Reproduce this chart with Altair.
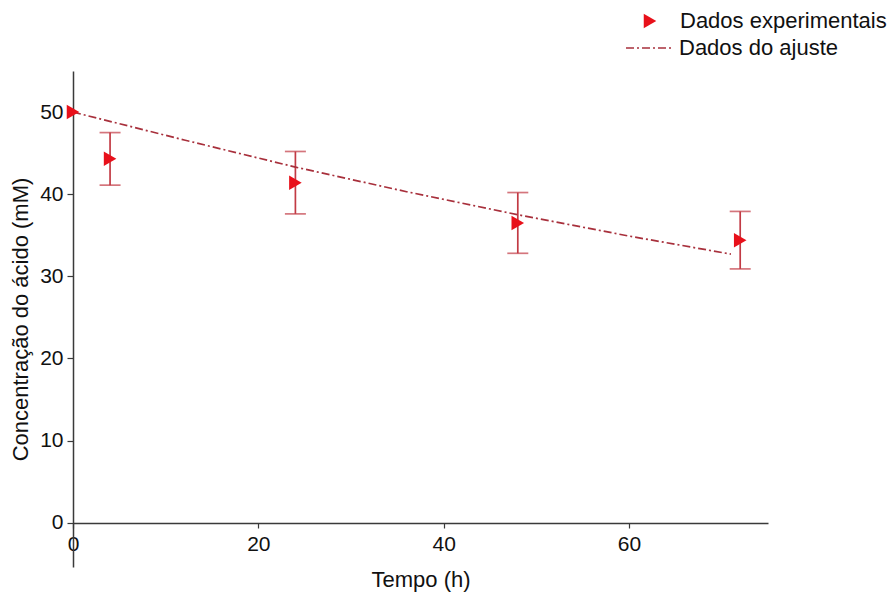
import altair as alt
import pandas as pd

# Experimental data
t_exp = [0, 4, 24, 48, 72]
c_exp = [50.0, 44.3, 41.4, 36.5, 34.4]
c_err = [0.0, 3.2, 3.8, 3.7, 3.5]

# Fitted curve
t_fit = [0, 12, 24, 36, 48, 60, 71]
c_fit = [50.0, 46.6, 43.3, 40.3, 37.5, 34.9, 32.7]

exp_df = pd.DataFrame({"t": t_exp, "c": c_exp, "err": c_err})
exp_df["lo"] = exp_df["c"] - exp_df["err"]
exp_df["hi"] = exp_df["c"] + exp_df["err"]
exp_df["serie"] = "Dados experimentais"
fit_df = pd.DataFrame({"t": t_fit, "c": c_fit})
fit_df["serie"] = "Dados do ajuste"

FONT = "Liberation Sans"
AX = "#3a3a3a"
RED = "#e8101a"
ERR = "#c23a44"
FIT = "#a8303c"
FS = 22

xscale = alt.Scale(domain=[0, 75], nice=False, zero=False)
yscale = alt.Scale(domain=[-5.4, 55], nice=False, zero=False)

xaxis = alt.Axis(title="Tempo (h)", values=[0, 20, 40, 60], grid=False,
                 offset=-44, tickSize=5, labelPadding=5, titlePadding=15,
                 domainColor=AX, tickColor=AX, domainWidth=1.5, tickWidth=1.2,
                 labelFont=FONT, titleFont=FONT, labelFontSize=FS - 1, titleFontSize=FS,
                 labelColor="#111", titleColor="#111", titleFontWeight="normal",
                 labelFlush=False)
yaxis = alt.Axis(title="Concentração do ácido (mM)", values=[0, 10, 20, 30, 40, 50],
                 grid=False, tickSize=6, labelPadding=4, titlePadding=7,
                 domainColor=AX, tickColor=AX, domainWidth=1.5, tickWidth=1.2,
                 labelFont=FONT, titleFont=FONT, labelFontSize=FS - 1, titleFontSize=FS,
                 labelColor="#111", titleColor="#111", titleFontWeight="normal",
                 labelFlush=False)

base_exp = alt.Chart(exp_df)
bars = base_exp.transform_filter("datum.err > 0")

rules = bars.mark_rule(color=ERR, strokeWidth=1.7).encode(
    x=alt.X("t:Q", scale=xscale, axis=xaxis),
    y=alt.Y("lo:Q", scale=yscale, axis=yaxis),
    y2="hi:Q",
)
cap_lo = bars.mark_tick(color=ERR, orient="horizontal", size=21, thickness=1.7).encode(
    x=alt.X("t:Q", scale=xscale), y=alt.Y("lo:Q", scale=yscale))
cap_hi = bars.mark_tick(color=ERR, orient="horizontal", size=21, thickness=1.7).encode(
    x=alt.X("t:Q", scale=xscale), y=alt.Y("hi:Q", scale=yscale))

fit_line = alt.Chart(fit_df).mark_line(color=FIT, strokeWidth=1.7).encode(
    x=alt.X("t:Q", scale=xscale),
    y=alt.Y("c:Q", scale=yscale),
    strokeDash=alt.StrokeDash(
        "serie:N",
        scale=alt.Scale(domain=["Dados do ajuste"], range=[[8, 3, 2, 3]]),
        legend=alt.Legend(title=None, orient="none", legendX=552, legendY=-48,
                          symbolType="stroke", symbolSize=2304, symbolStrokeColor=FIT,
                          symbolStrokeWidth=1.7, labelFont=FONT, labelFontSize=FS,
                          labelColor="#111", labelOffset=4, labelLimit=0, padding=0),
    ),
)

points = base_exp.mark_point(filled=True, color=RED, size=210, opacity=1).encode(
    x=alt.X("t:Q", scale=xscale),
    y=alt.Y("c:Q", scale=yscale),
    shape=alt.Shape(
        "serie:N",
        scale=alt.Scale(domain=["Dados experimentais"], range=["triangle-right"]),
        legend=alt.Legend(title=None, orient="none", legendX=566, legendY=-61,
                          symbolFillColor=RED, symbolStrokeColor=RED, symbolStrokeWidth=0,
                          symbolSize=210, symbolOpacity=1, labelFont=FONT, labelFontSize=FS,
                          labelColor="#111", labelOffset=19, labelLimit=0, padding=0),
    ),
)

chart = alt.layer(rules, cap_lo, cap_hi, fit_line, points).resolve_legend(
    shape="independent", strokeDash="independent"
).properties(
    width=695, height=496,
    autosize=alt.AutoSizeParams(type="none"),
    padding={"left": 73, "top": 71, "right": 124, "bottom": 26},
    background="white",
).configure_view(stroke=None)

chart.save("out.html", embed_options={"renderer": "svg", "actions": False})
